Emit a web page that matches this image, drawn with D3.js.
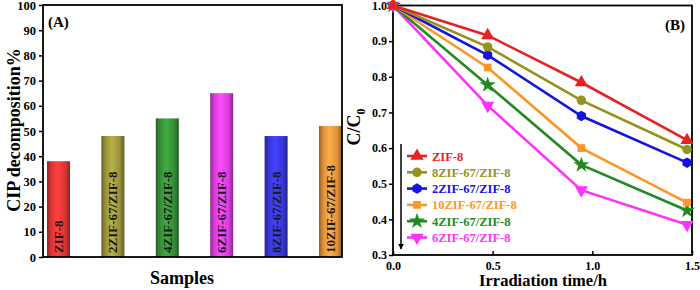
<!DOCTYPE html>
<html lang="en">
<head>
	<meta charset="utf-8">
	<title> CIP decomposition </title>
	<script src="https://d3js.org/d3.v7.min.js"></script>
	<style type="text/css">
	body { margin: 0; background: #fff; }
	text { font-family: "Liberation Serif", "Times New Roman", serif; font-weight: bold; }
	</style>
</head>
<body>
	<svg id="chart" width="700" height="290"></svg>

	<script type="text/javascript">
	// panel A data
	var samples = ["ZIF-8", "2ZIF-67/ZIF-8", "4ZIF-67/ZIF-8", "6ZIF-67/ZIF-8", "8ZIF-67/ZIF-8", "10ZIF-67/ZIF-8"]
	var decomposition = [38, 48, 55, 65, 48, 52]
	var barColors = ["#f23a3a", "#a8a240", "#3c9c3c", "#f244f2", "#3c3cee", "#f5a040"]
	var yTicksA = [0, 10, 20, 30, 40, 50, 60, 70, 80, 90, 100]

	// panel B data
	var times = [0, 0.475, 0.945, 1.475]
	var seriesNames = ["ZIF-8", "8ZIF-67/ZIF-8", "2ZIF-67/ZIF-8", "10ZIF-67/ZIF-8", "4ZIF-67/ZIF-8", "6ZIF-67/ZIF-8"]
	var zif8 = [1, 0.916, 0.784, 0.622]
	var zif8_8 = [1, 0.884, 0.734, 0.596]
	var zif8_2 = [1, 0.861, 0.69, 0.559]
	var zif8_10 = [1, 0.826, 0.6, 0.447]
	var zif8_4 = [1, 0.777, 0.553, 0.425]
	var zif8_6 = [1, 0.719, 0.482, 0.385]
	var seriesValues = [zif8, zif8_8, zif8_2, zif8_10, zif8_4, zif8_6]
	var lineColors = ["#e82222", "#93931f", "#1414e0", "#ff9626", "#238a23", "#ff33ff"]
	var markerShapes = ["triangleUp", "circle", "hexagon", "square", "star", "triangleDown"]
	var xTicksB = [0, 0.5, 1.0, 1.5]
	var yTicksB = [0.3, 0.4, 0.5, 0.6, 0.7, 0.8, 0.9, 1.0]

	var svg = d3.select("#chart")
	var defs = svg.append("defs")

	// ---------- panel A ----------
	var a = {left: 43, right: 342, top: 5, bottom: 257}
	var gA = svg.append("g")

	var xA = d3.scalePoint().domain(samples).range([58.5, 330.5])
	var yA = d3.scaleLinear().domain([0, 100]).range([a.bottom, a.top])
	var barW = 23

	// cylinder-like shading per bar
	barColors.forEach(function(c, i) {
		var g = defs.append("linearGradient").attr("id", "bar" + i)
			.attr("x1", "0%").attr("x2", "100%").attr("y1", "0%").attr("y2", "0%")
		var col = d3.color(c)
		g.append("stop").attr("offset", "0%").attr("stop-color", col.darker(1.4))
		g.append("stop").attr("offset", "18%").attr("stop-color", col.darker(0.3))
		g.append("stop").attr("offset", "45%").attr("stop-color", col.brighter(0.25))
		g.append("stop").attr("offset", "80%").attr("stop-color", col.darker(0.3))
		g.append("stop").attr("offset", "100%").attr("stop-color", col.darker(1.5))
	})

	gA.selectAll("rect.bar")
		.data(samples)
		.enter()
		.append("rect")
		.attr("class", "bar")
		.attr("x", function(d) { return xA(d) - barW / 2 })
		.attr("width", barW)
		.attr("y", function(d, i) { return yA(decomposition[i]) })
		.attr("height", function(d, i) { return a.bottom - yA(decomposition[i]) })
		.style("fill", function(d, i) { return "url(#bar" + i + ")" })

	// sample names inside bars
	gA.selectAll("text.blabel")
		.data(samples)
		.enter()
		.append("text")
		.attr("class", "blabel")
		.attr("transform", function(d) { return "translate(" + (xA(d) + 4.5) + "," + (a.bottom - 4) + ") rotate(-90)" })
		.style("font-size", "13px")
		.style("fill", "#1a1a1a")
		.text(function(d) { return d })

	var axisA = d3.axisLeft(yA).tickValues(yTicksA).tickSize(4).tickPadding(3)
	var yAxisA = gA.append("g").attr("transform", "translate(" + a.left + ",0)").call(axisA)
	yAxisA.select(".domain").remove()
	yAxisA.selectAll("line").attr("stroke", "#000").attr("stroke-width", 1.5)
	yAxisA.selectAll("text").style("font-size", "12.5px").style("font-family", "Liberation Serif").style("font-weight", "bold")

	gA.append("rect")
		.attr("x", a.left).attr("y", a.top)
		.attr("width", a.right - a.left).attr("height", a.bottom - a.top)
		.attr("fill", "none").attr("stroke", "#000").attr("stroke-width", 1.8)

	gA.append("text").attr("x", 48).attr("y", 27).style("font-size", "15px").text("(A)")

	gA.append("text")
		.attr("transform", "translate(20," + 130 + ") rotate(-90)")
		.attr("text-anchor", "middle").style("font-size", "18px")
		.text("CIP decomposition%")

	gA.append("text")
		.attr("x", 182).attr("y", 284)
		.attr("text-anchor", "middle").style("font-size", "18px")
		.text("Samples")

	// ---------- panel B ----------
	var b = {left: 393, right: 692, top: 5.5, bottom: 255}
	var gB = svg.append("g")

	var xB = d3.scaleLinear().domain([0, 1.5]).range([b.left, b.right])
	var yB = d3.scaleLinear().domain([0.3, 1.0]).range([b.bottom, b.top])

	var axisBx = d3.axisBottom(xB).tickValues(xTicksB).tickFormat(d3.format(".1f")).tickSize(-4).tickPadding(6)
	var xAxisB = gB.append("g").attr("transform", "translate(0," + b.bottom + ")").call(axisBx)
	var axisBy = d3.axisLeft(yB).tickValues(yTicksB).tickFormat(d3.format(".1f")).tickSize(4).tickPadding(2)
	var yAxisB = gB.append("g").attr("transform", "translate(" + b.left + ",0)").call(axisBy)
	;[xAxisB, yAxisB].forEach(function(ax) {
		ax.select(".domain").remove()
		ax.selectAll("line").attr("stroke", "#000").attr("stroke-width", 1.5)
		ax.selectAll("text").style("font-size", "12px").style("font-family", "Liberation Serif").style("font-weight", "bold")
	})

	gB.append("rect")
		.attr("x", b.left).attr("y", b.top)
		.attr("width", b.right - b.left).attr("height", b.bottom - b.top)
		.attr("fill", "none").attr("stroke", "#000").attr("stroke-width", 1.8)

	var symbolFor = {
		triangleUp: d3.symbol().type(d3.symbolTriangle).size(75),
		triangleDown: d3.symbol().type(d3.symbolTriangle).size(75),
		circle: d3.symbol().type(d3.symbolCircle).size(70),
		square: d3.symbol().type(d3.symbolSquare).size(60),
		star: d3.symbol().type(d3.symbolStar).size(80),
		hexagon: d3.symbol().type({draw: function(ctx, size) {
			var r = Math.sqrt(size / 2.6)
			for (var k = 0; k < 6; k++) {
				var ang = Math.PI / 6 + k * Math.PI / 3
				if (k === 0) ctx.moveTo(r * Math.cos(ang), r * Math.sin(ang))
				else ctx.lineTo(r * Math.cos(ang), r * Math.sin(ang))
			}
			ctx.closePath()
		}}).size(72)
	}
	function markerTransform(shape, x, y) {
		var t = "translate(" + x + "," + y + ")"
		if (shape === "triangleDown") t += " rotate(180)"
		return t
	}

	var line = d3.line().x(function(d) { return xB(d[0]) }).y(function(d) { return yB(d[1]) })

	// draw weaker series first so ZIF-8 ends up on top
	d3.range(seriesNames.length).reverse().forEach(function(i) {
		var pts = times.map(function(t, j) { return [t, seriesValues[i][j]] })
		gB.append("path")
			.datum(pts)
			.attr("d", line)
			.attr("fill", "none")
			.attr("stroke", lineColors[i])
			.attr("stroke-width", 2.6)
		gB.selectAll("path.m" + i)
			.data(pts)
			.enter()
			.append("path")
			.attr("class", "m" + i)
			.attr("d", symbolFor[markerShapes[i]]())
			.attr("transform", function(d) { return markerTransform(markerShapes[i], xB(d[0]), yB(d[1])) })
			.attr("fill", lineColors[i])
	})

	// legend
	var legY0 = 156, legStep = 16.3
	seriesNames.forEach(function(name, i) {
		var y = legY0 + i * legStep
		gB.append("line").attr("x1", 407).attr("x2", 427).attr("y1", y).attr("y2", y)
			.attr("stroke", lineColors[i]).attr("stroke-width", 2.6)
		gB.append("path").attr("d", symbolFor[markerShapes[i]]())
			.attr("transform", markerTransform(markerShapes[i], 417, y))
			.attr("fill", lineColors[i])
		gB.append("text").attr("x", 432).attr("y", y + 4.5)
			.style("font-size", "12.5px").style("fill", lineColors[i])
			.text(name)
	})

	// arrow along the legend
	defs.append("marker").attr("id", "arrowhead")
		.attr("viewBox", "0 0 10 10").attr("refX", 9).attr("refY", 5)
		.attr("markerWidth", 4).attr("markerHeight", 5).attr("orient", "auto")
		.append("path").attr("d", "M0,0 L10,5 L0,10 z").attr("fill", "#000")
	gB.append("line").attr("x1", 401).attr("x2", 401).attr("y1", 144).attr("y2", 249)
		.attr("stroke", "#000").attr("stroke-width", 1.5).attr("marker-end", "url(#arrowhead)")

	gB.append("text").attr("x", 675).attr("y", 30).attr("text-anchor", "middle").style("font-size", "15px").text("(B)")

	var yTitle = gB.append("text")
		.attr("transform", "translate(360,127) rotate(-90)")
		.attr("text-anchor", "middle").style("font-size", "18px")
	yTitle.append("tspan").text("C/C")
	yTitle.append("tspan").attr("dy", 5).style("font-size", "12px").text("0")

	gB.append("text")
		.attr("x", 543).attr("y", 286)
		.attr("text-anchor", "middle").style("font-size", "16.5px")
		.text("Irradiation time/h")
	</script>
</body>
</html>
